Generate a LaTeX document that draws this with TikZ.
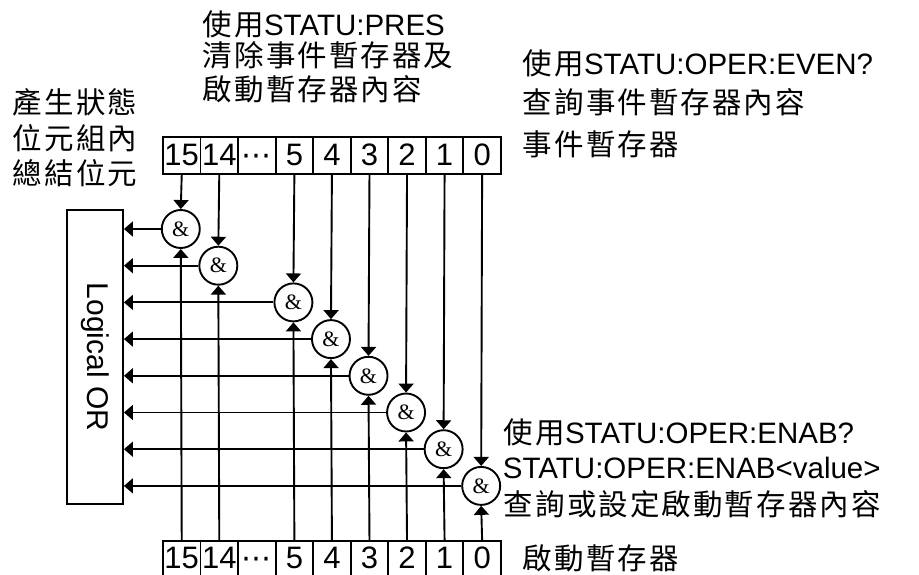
\documentclass[tikz,border=0pt]{standalone}
\usepackage{fontspec}
\newfontfamily\arial{Liberation Sans}
\newfontfamily\tnr{Liberation Serif}
\newfontfamily\cjk[LetterSpace=7]{Noto Sans CJK TC}
\newfontfamily\dejavu{DejaVu Sans}
\usetikzlibrary{arrows.meta}
\newcommand\mydots{{\dejavu\fontsize{30}{30}\selectfont ⋯}}
\begin{document}
\begin{tikzpicture}[x=1pt,y=-1pt, line width=1.9pt,
  lbl/.style={anchor=base west, inner sep=0pt, font=\arial\fontsize{29.5}{30}\selectfont},
  cell/.style={draw, minimum width=37.55pt, inner sep=0pt, text depth=0pt, anchor=north west, font=\arial\fontsize{31}{31}\selectfont},
  topcell/.style={cell, minimum height=37pt, text height=21pt},
  botcell/.style={cell, minimum height=36pt, text height=20pt},
  gate/.style={draw, circle, minimum size=38pt, inner sep=0pt, font=\tnr\fontsize{22}{22}\selectfont},
  arr/.style={-{Triangle[width=15pt,length=9pt]}}
]
\useasboundingbox (0,0) rectangle (919,575);

% registers
\foreach \n/\txt [count=\c from 0] in {15/15,14/14,d/\mydots,5/5,4/4,3/3,2/2,1/1,0/0} {
  \node[topcell] (t\n) at ({162+37.55*\c},136) {\txt};
  \node[botcell] (b\n) at ({162+37.55*\c},540) {\txt};
}

% Logical OR
\node[draw, minimum width=56pt, minimum height=294pt, inner sep=0pt] (or) at (95,357) {};
\node[rotate=-90, inner sep=0pt, font=\arial\fontsize{30}{30}\selectfont] (ortxt) at (or.center) {Logical OR};

% gates
\foreach \c/\b [count=\r from 0] in {0/15,1/14,3/5,4/4,5/3,6/2,7/1,8/0} {
  \node[gate] (g\b) at ({162+37.55*(\c+0.5)}, {229+36.7*\r}) {\&};
  \draw[arr] (t\b.south) -- (g\b.north);
  \draw[arr] (b\b.north) -- (g\b.south);
  \draw[arr] (g\b.west) -- (g\b.west -| or.east);
}

% labels
\node[lbl] (l1) at (202,36) {{\cjk 使用}STATU:PRES};
\node[lbl] (l2) at (202,67) {\cjk 清除事件暫存器及};
\node[lbl] (l3) at (202,101) {\cjk 啟動暫存器內容};

\node[lbl] (l4) at (12,114) {\cjk 產生狀態};
\node[lbl] (l5) at (12,150) {\cjk 位元組內};
\node[lbl] (l6) at (12,185) {\cjk 總結位元};

\node[lbl] (l7) at (522,75) {{\cjk 使用}STATU:OPER:EVEN?};
\node[lbl] (l8) at (522,113.5) {\cjk 查詢事件暫存器內容};
\node[lbl] (l9) at (522,155.5) {\cjk 事件暫存器};

\node[lbl] (l10) at (503,443) {{\cjk 使用}STATU:OPER:ENAB?};
\node[lbl] (l11) at (502,478) {STATU:OPER:ENAB<value>};
\node[lbl] (l12) at (503,515.5) {\cjk 查詢或設定啟動暫存器內容};
\node[lbl] (l13) at (522,569.5) {\cjk 啟動暫存器};
\end{tikzpicture}
\end{document}
